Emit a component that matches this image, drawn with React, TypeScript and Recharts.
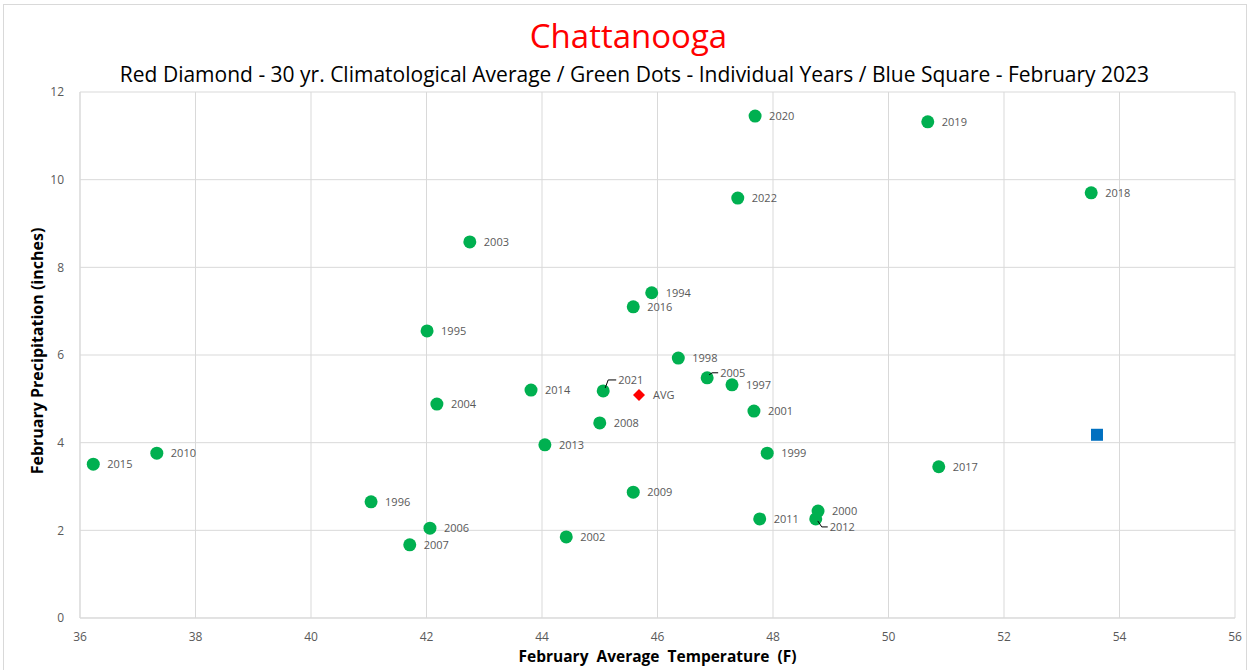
import React from "react";
import {
  ScatterChart,
  Scatter,
  XAxis,
  YAxis,
  CartesianGrid,
  LabelList,
} from "recharts";

const years = [
  "2020", "2019", "2018", "2022", "2003", "1994", "2016", "1995", "1998", "2005",
  "1997", "2014", "2021", "2004", "2001", "2008", "2013", "2010", "1999", "2015",
  "2017", "2009", "1996", "2000", "2011", "2012", "2006", "2002", "2007",
];
const temps = [
  47.69, 50.68, 53.51, 47.39, 42.75, 45.9, 45.58, 42.01, 46.36, 46.86,
  47.29, 43.81, 45.06, 42.18, 47.67, 45.0, 44.05, 37.33, 47.9, 36.23,
  50.87, 45.58, 41.04, 48.78, 47.77, 48.74, 42.06, 44.42, 41.71,
];
const precip = [
  11.45, 11.32, 9.7, 9.58, 8.58, 7.42, 7.1, 6.55, 5.93, 5.48,
  5.32, 5.2, 5.18, 4.88, 4.72, 4.45, 3.95, 3.76, 3.76, 3.51,
  3.45, 2.87, 2.65, 2.44, 2.26, 2.26, 2.05, 1.85, 1.67,
];
const avgTemp = [45.68];
const avgPrecip = [5.09];
const feb2023Temp = [53.61];
const feb2023Precip = [4.18];

const xTicks = [36, 38, 40, 42, 44, 46, 48, 50, 52, 54, 56];
const yTicks = [0, 2, 4, 6, 8, 10, 12];

const yearData = years.map((y, i) => ({ name: y, t: temps[i], p: precip[i] }));
const avgData = avgTemp.map((t, i) => ({ name: "AVG", t, p: avgPrecip[i] }));
const febData = feb2023Temp.map((t, i) => ({ name: "", t, p: feb2023Precip[i] }));

// labels that Excel moved off their point, drawn with a leader line
const nudge: Record<string, { dx: number; dy: number }> = {
  "2021": { dx: 15, dy: -11 },
  "2005": { dx: 13, dy: -5 },
  "2012": { dx: 14, dy: 8 },
};

const FONT = "'Open Sans', sans-serif";
const GRAY = "#595959";

function PointLabel(props: any) {
  const { x, y, width, height, value } = props;
  if (!value) return null;
  const cx = x + width / 2;
  const cy = y + height / 2;
  const n = nudge[value];
  const dx = n ? n.dx : 14;
  const dy = n ? n.dy : 0;
  return (
    <g>
      {n && (
        <polyline
          points={
            dy < 0
              ? `${cx + 2},${cy - 3} ${cx + 5},${cy + dy} ${cx + dx - 2},${cy + dy}`
              : `${cx + 2},${cy + 2} ${cx + 6},${cy + dy} ${cx + dx - 2},${cy + dy}`
          }
          fill="none"
          stroke="#000"
          strokeWidth={1}
        />
      )}
      <text
        x={cx + dx}
        y={cy + dy}
        dy="0.35em"
        fill={GRAY}
        fontSize={11}
        fontFamily={FONT}
      >
        {value}
      </text>
    </g>
  );
}

const Dot = (p: any) => <circle cx={p.cx} cy={p.cy} r={6.5} fill="#00b050" />;
const Diamond = (p: any) => (
  <polygon
    points={`${p.cx},${p.cy - 6} ${p.cx + 6},${p.cy} ${p.cx},${p.cy + 6} ${p.cx - 6},${p.cy}`}
    fill="#ff0000"
  />
);
const Square = (p: any) => (
  <rect x={p.cx - 6} y={p.cy - 6} width={12} height={12} fill="#0070c0" />
);

export default function App() {
  return (
    <div style={{ position: "relative", width: 1251, height: 670, background: "#fff", fontFamily: FONT }}>
      <style>{`body{margin:0}`}</style>
      <div
        style={{
          position: "absolute",
          left: 3,
          top: 4,
          width: 1244,
          height: 670,
          border: "1px solid #d9d9d9",
          boxSizing: "border-box",
        }}
      />
      <div
        style={{
          position: "absolute",
          top: 14,
          left: 0,
          width: 1251,
          paddingLeft: 6,
          boxSizing: "border-box",
          textAlign: "center",
          color: "#ff0000",
          fontSize: 33,
          lineHeight: "44px",
        }}
      >
        Chattanooga
      </div>
      <div
        style={{
          position: "absolute",
          top: 59,
          left: 0,
          width: 1251,
          paddingLeft: 18,
          boxSizing: "border-box",
          textAlign: "center",
          color: "#000",
          fontSize: 21,
          lineHeight: "30px",
          whiteSpace: "nowrap",
        }}
      >
        Red Diamond - 30 yr. Climatological Average / Green Dots - Individual Years / Blue Square - February 2023
      </div>
      <ScatterChart
        width={1251}
        height={670}
        margin={{ top: 92, right: 16, bottom: 22, left: 0 }}
        style={{ position: "absolute", left: 0, top: 0 }}
      >
        <CartesianGrid stroke="#d9d9d9" strokeWidth={1} />
        <XAxis
          type="number"
          dataKey="t"
          domain={[36, 56]}
          ticks={xTicks}
          height={30}
          tick={{ fill: GRAY, fontSize: 12, fontFamily: FONT }}
          tickLine={false}
          axisLine={{ stroke: "#d9d9d9" }}
          tickMargin={8}
          allowDataOverflow
        />
        <YAxis
          type="number"
          dataKey="p"
          domain={[0, 12]}
          ticks={yTicks}
          width={80}
          tick={{ fill: GRAY, fontSize: 12, fontFamily: FONT }}
          tickLine={false}
          axisLine={{ stroke: "#d9d9d9" }}
          tickMargin={10}
          allowDataOverflow
        />
        <Scatter data={yearData} shape={Dot} isAnimationActive={false}>
          <LabelList dataKey="name" content={PointLabel} />
        </Scatter>
        <Scatter data={avgData} shape={Diamond} isAnimationActive={false}>
          <LabelList dataKey="name" content={PointLabel} />
        </Scatter>
        <Scatter data={febData} shape={Square} isAnimationActive={false} />
      </ScatterChart>
      <div
        style={{
          position: "absolute",
          top: 645,
          left: 80,
          width: 1155,
          textAlign: "center",
          fontWeight: "bold",
          fontSize: 15.5,
          whiteSpace: "pre",
          color: "#000",
        }}
      >
        {"February  Average  Temperature  (F)"}
      </div>
      <div
        style={{
          position: "absolute",
          left: 37,
          top: 351,
          transform: "translate(-50%, -50%) rotate(-90deg)",
          fontWeight: "bold",
          fontSize: 16,
          whiteSpace: "pre",
          color: "#000",
        }}
      >
        February Precipitation (inches)
      </div>
    </div>
  );
}
